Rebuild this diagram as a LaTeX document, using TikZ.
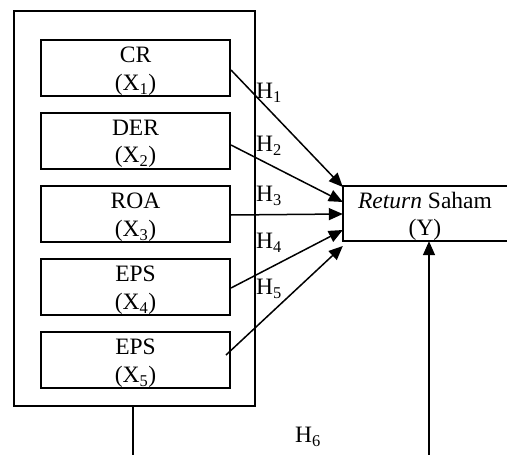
\documentclass[tikz,border=0pt]{standalone}
\usepackage{fontspec}
\setmainfont{Liberation Serif}
\usetikzlibrary{arrows.meta}
% invisible strut that lowers a two-line label inside its box
\newcommand{\lowerstrut}{\rule{0pt}{22pt}}
\begin{document}
\begin{tikzpicture}[x=1pt,y=-1pt,
  every node/.style={font=\fontsize{23.5}{26}\selectfont},
  varbox/.style={draw,line width=2pt,minimum width=189pt,minimum height=56pt,
    inner sep=0pt,align=center},
  frame/.style={draw,line width=2pt,minimum width=241pt,minimum height=395pt,inner sep=0pt},
  link/.style={line width=1.5pt,-{Triangle[length=14pt,width=12pt]}},
  hyp/.style={inner sep=0pt,anchor=west}]
\useasboundingbox (0,0) rectangle (507,455);

% outer frame grouping the independent variables
\node[frame] (grp) at (134.5,208.5) {};

% independent variables
\node[varbox] (x1) at (135.5,68)  {\lowerstrut CR\\[2pt](X\textsubscript{1})};
\node[varbox] (x2) at (135.5,140.5) {\lowerstrut DER\\[2pt](X\textsubscript{2})};
\node[varbox] (x3) at (135.5,214) {\lowerstrut ROA\\[2pt](X\textsubscript{3})};
\node[varbox] (x4) at (135.5,287) {\lowerstrut EPS\\[2pt](X\textsubscript{4})};
\node[varbox] (x5) at (135.5,360) {\lowerstrut EPS\\[2pt](X\textsubscript{5})};

% dependent variable, open towards the right
\node[minimum width=164pt,minimum height=55pt,inner sep=0pt,align=center] (ret) at (425,213.5)
  {\lowerstrut\textit{Return} Saham\\[2pt](Y)};
\draw[line width=2pt] (ret.north east) -- (ret.north west) -- (ret.south west) -- (ret.south east);

% hypothesis arrows
\draw[link] ([yshift=-2pt]x1.east) -- ([yshift=26.5pt]ret.west);
\draw[link] ([yshift=-4.5pt]x2.east) -- ([yshift=11.5pt]ret.west);
\draw[link] ([yshift=-1pt]x3.east) -- ([yshift=-0.5pt]ret.west);
\draw[link] ([yshift=-1pt]x4.east) -- ([yshift=-16.5pt]ret.west);
\draw[link] ([xshift=-5pt,yshift=5pt]x5.east) -- ([yshift=-32.5pt]ret.west);

\node[hyp] (h1) at (256,93)  {H\textsubscript{1}};
\node[hyp] (h2) at (256,146) {H\textsubscript{2}};
\node[hyp] (h3) at (256,196) {H\textsubscript{3}};
\node[hyp] (h4) at (256,243) {H\textsubscript{4}};
\node[hyp] (h5) at (256,289) {H\textsubscript{5}};
\node (h6) at (308,437) {H\textsubscript{6}};

% joint effect path running below the frame
\coordinate (gbot) at (133,455);
\coordinate (ybot) at (429,455);
\draw[line width=1.5pt] (grp.south -| gbot) -- (gbot);
\draw[link] (ybot) -- (ybot |- ret.south);
\end{tikzpicture}
\end{document}
